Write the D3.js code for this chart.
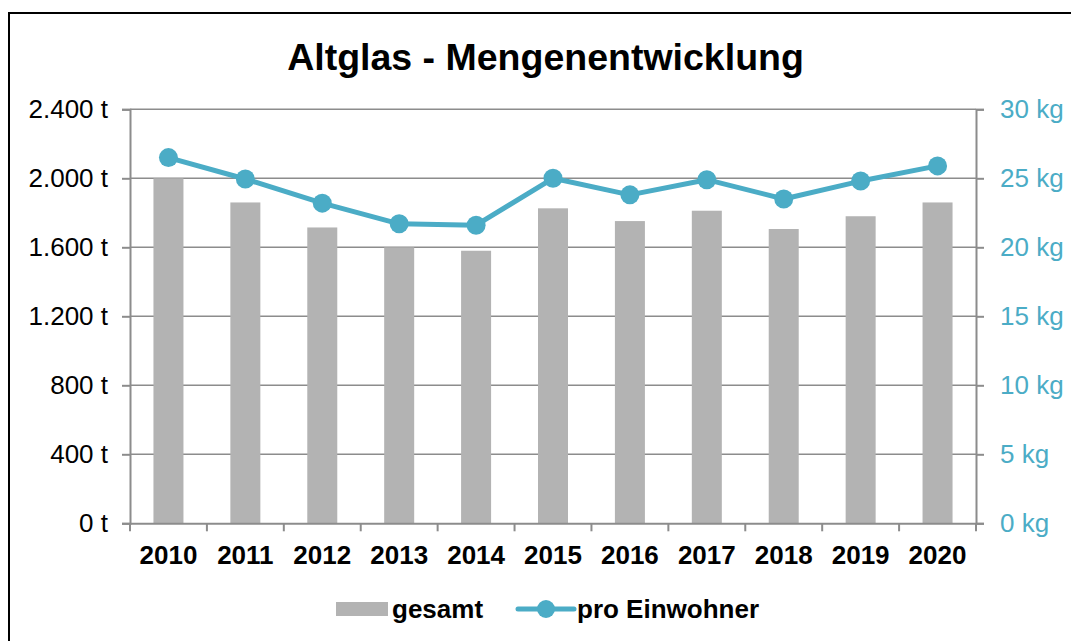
<!DOCTYPE html>
<html>
<head>
<meta charset="utf-8">
<script src="https://cdn.jsdelivr.net/npm/d3@7"></script>
<style>
  body { margin: 0; background: #fff; }
  svg { display: block; font-family: "Liberation Sans", Arial, sans-serif; }
</style>
</head>
<body>
<svg id="chart" width="1071" height="641"></svg>
<script>
const years = ['2010', '2011', '2012', '2013', '2014', '2015', '2016', '2017', '2018', '2019', '2020'];
const gesamt = [2000, 1860, 1715, 1600, 1580, 1826, 1752, 1812, 1706, 1780, 1860];
const proEinwohner = [26.5, 24.95, 23.2, 21.7, 21.6, 25.0, 23.8, 24.9, 23.5, 24.8, 25.9];
const leftTicks = [0, 400, 800, 1200, 1600, 2000, 2400];
const rightTicks = [0, 5, 10, 15, 20, 25, 30];

const svg = d3.select('#chart');
const blue = '#4BACC6';
const grey = '#B3B3B3';
const axisGrey = '#8C8C8C';
const fontFamily = '"Liberation Sans", Arial, sans-serif';
const labelSize = '26px';

const margin = { left: 130, right: 976, top: 109.3, bottom: 523.3 };

// Scales
const x = d3.scaleBand().domain(years).range([margin.left, margin.right]).paddingInner(0.61).paddingOuter(0.305);
const xBand = d3.scaleBand().domain(years).range([margin.left, margin.right]);
const yLeft = d3.scaleLinear().domain([0, 2400]).range([margin.bottom, margin.top]);
const yRight = d3.scaleLinear().domain([0, 30]).range([margin.bottom, margin.top]);

// Outer frame
svg.append('rect')
  .attr('x', 9).attr('y', 13)
  .attr('width', 1080).attr('height', 650)
  .attr('fill', 'none')
  .attr('stroke', '#000')
  .attr('stroke-width', 2);

// Title
svg.append('text')
  .attr('x', 545.5).attr('y', 70)
  .attr('text-anchor', 'middle')
  .style('font-size', '37.5px')
  .style('font-weight', 'bold')
  .text('Altglas - Mengenentwicklung');

// Gridlines
svg.append('g')
  .selectAll('line')
  .data(leftTicks.slice(1))
  .enter()
  .append('line')
  .attr('x1', margin.left).attr('x2', margin.right)
  .attr('y1', d => yLeft(d)).attr('y2', d => yLeft(d))
  .attr('stroke', axisGrey)
  .attr('stroke-width', 1.5);

// Bars
svg.append('g')
  .selectAll('rect')
  .data(gesamt)
  .enter()
  .append('rect')
  .attr('x', (d, i) => x(years[i]))
  .attr('width', x.bandwidth())
  .attr('y', d => yLeft(d))
  .attr('height', d => yLeft(0) - yLeft(d))
  .attr('fill', grey);

// Left axis
const leftAxis = svg.append('g')
  .attr('transform', `translate(${margin.left},0)`)
  .call(d3.axisLeft(yLeft).tickValues(leftTicks).tickSize(8).tickPadding(14)
    .tickFormat(d => d3.format(',')(d).replace(',', '.') + ' t'));
leftAxis.select('.domain').attr('stroke', axisGrey).attr('stroke-width', 2);
leftAxis.selectAll('.tick line').attr('stroke', axisGrey).attr('stroke-width', 2);
leftAxis.selectAll('.tick text')
  .style('font-size', labelSize)
  .style('font-family', fontFamily)
  .attr('fill', '#000');

// Right axis
const rightAxis = svg.append('g')
  .attr('transform', `translate(${margin.right},0)`)
  .call(d3.axisRight(yRight).tickValues(rightTicks).tickSize(8).tickPadding(16)
    .tickFormat(d => d + ' kg'));
rightAxis.select('.domain').attr('stroke', axisGrey).attr('stroke-width', 2);
rightAxis.selectAll('.tick line').attr('stroke', axisGrey).attr('stroke-width', 2);
rightAxis.selectAll('.tick text')
  .style('font-size', labelSize)
  .style('font-family', fontFamily)
  .attr('fill', blue);

// Bottom axis
const bottomAxis = svg.append('g')
  .attr('transform', `translate(0,${margin.bottom})`)
  .call(d3.axisBottom(xBand).tickSize(0).tickPadding(22));
bottomAxis.select('.domain').attr('stroke', axisGrey).attr('stroke-width', 2);
bottomAxis.selectAll('.tick text')
  .style('font-size', labelSize)
  .style('font-weight', 'bold')
  .style('font-family', fontFamily)
  .attr('fill', '#000');
// Category boundary ticks
bottomAxis.append('g')
  .selectAll('line')
  .data(years.concat(['end']))
  .enter()
  .append('line')
  .attr('x1', (d, i) => margin.left + i * xBand.step())
  .attr('x2', (d, i) => margin.left + i * xBand.step())
  .attr('y1', 0).attr('y2', 8)
  .attr('stroke', axisGrey)
  .attr('stroke-width', 2);

// Line
const line = d3.line()
  .x((d, i) => xBand(years[i]) + xBand.bandwidth() / 2)
  .y(d => yRight(d));

svg.append('path')
  .datum(proEinwohner)
  .attr('d', line)
  .attr('fill', 'none')
  .attr('stroke', blue)
  .attr('stroke-width', 5)
  .attr('stroke-linejoin', 'round');

svg.append('g')
  .selectAll('circle')
  .data(proEinwohner)
  .enter()
  .append('circle')
  .attr('cx', (d, i) => xBand(years[i]) + xBand.bandwidth() / 2)
  .attr('cy', d => yRight(d))
  .attr('r', 9.5)
  .attr('fill', blue);

// Legend
const legend = svg.append('g');
legend.append('rect')
  .attr('x', 336).attr('y', 602)
  .attr('width', 52).attr('height', 14)
  .attr('fill', grey);
legend.append('text')
  .attr('x', 392).attr('y', 618)
  .style('font-size', labelSize)
  .style('font-weight', 'bold')
  .text('gesamt');
legend.append('line')
  .attr('x1', 518).attr('x2', 574)
  .attr('y1', 609).attr('y2', 609)
  .attr('stroke', blue)
  .attr('stroke-width', 5)
  .attr('stroke-linecap', 'round');
legend.append('circle')
  .attr('cx', 546).attr('cy', 609)
  .attr('r', 9)
  .attr('fill', blue);
legend.append('text')
  .attr('x', 577).attr('y', 618)
  .style('font-size', labelSize)
  .style('font-weight', 'bold')
  .text('pro Einwohner');
</script>
</body>
</html>
